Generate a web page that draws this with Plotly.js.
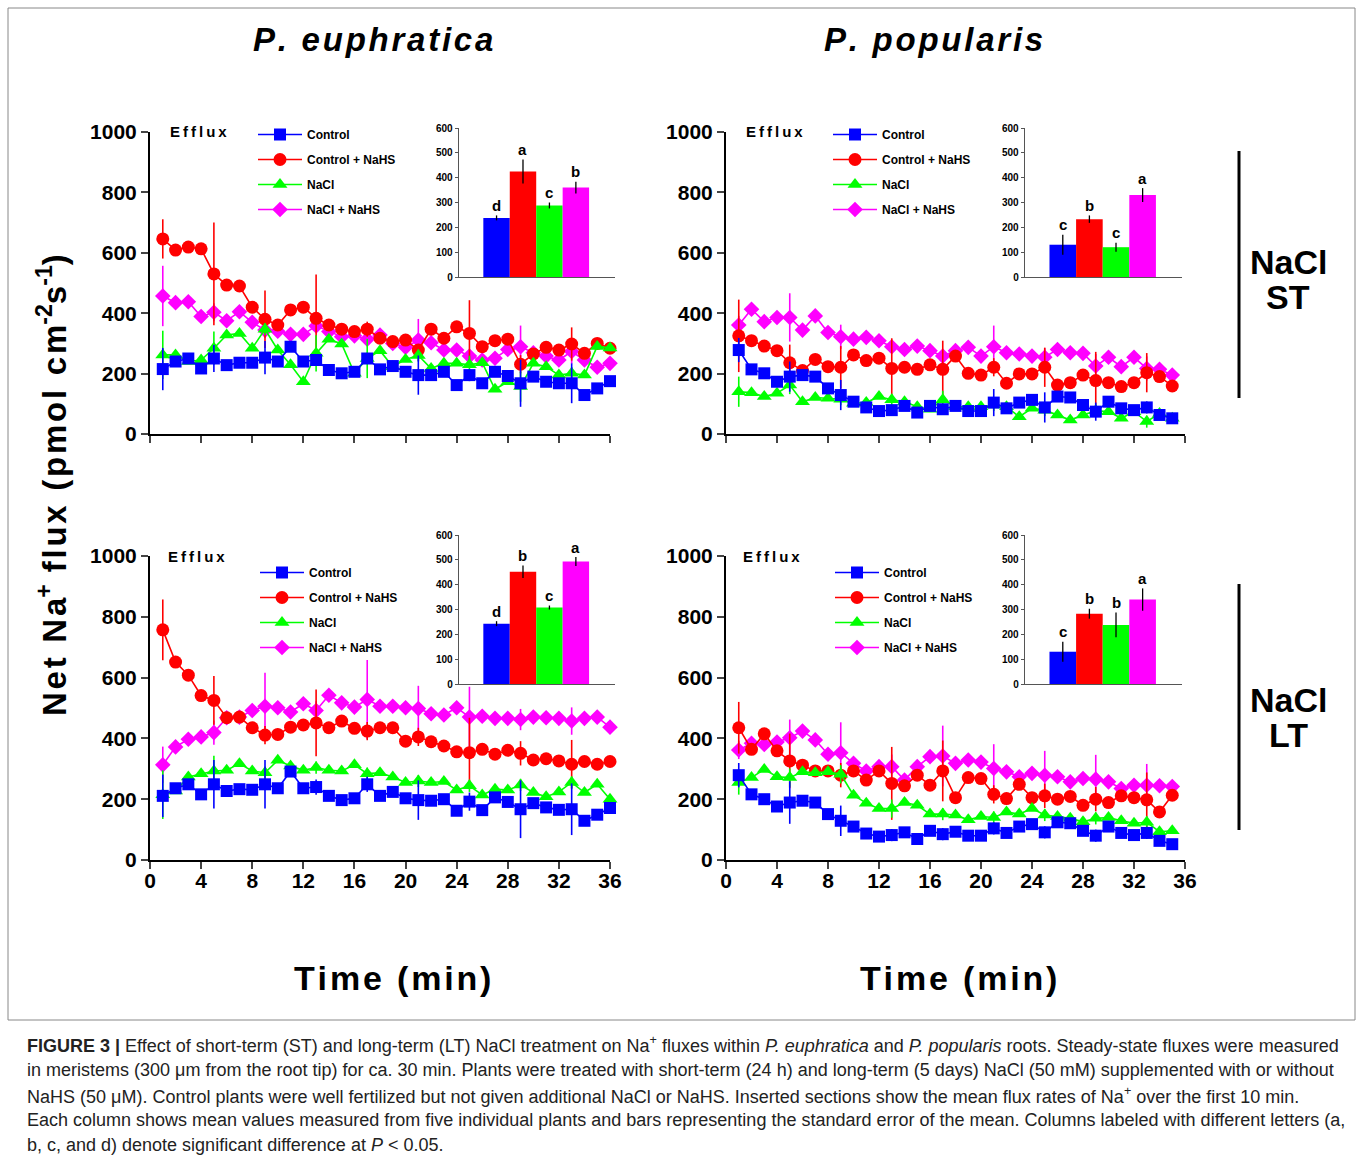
<!DOCTYPE html>
<html><head><meta charset="utf-8">
<script src="https://cdn.plot.ly/plotly-3.0.1.min.js"></script>
<style>html,body{margin:0;padding:0;background:#fff}</style>
</head><body><div id="chart" style="width:1357px;height:1163px"></div>
<script>
// ---------------- DATA ----------------
const time36 = [1,2,3,4,5,6,7,8,9,10,11,12,13,14,15,16,17,18,19,20,21,22,23,24,25,26,27,28,29,30,31,32,33,34,35,36];
const time35 = [1,2,3,4,5,6,7,8,9,10,11,12,13,14,15,16,17,18,19,20,21,22,23,24,25,26,27,28,29,30,31,32,33,34,35];
const seriesNames = ['Control', 'Control + NaHS', 'NaCl', 'NaCl + NaHS'];

// P. euphratica, NaCl ST
const euST_control  = [215,240,250,217,250,228,236,236,253,240,289,240,245,212,201,206,250,214,225,206,195,195,206,162,195,168,206,192,168,190,173,168,168,129,151,175];
const euST_ctrlNaHS = [646,609,619,613,530,493,490,420,380,361,411,420,383,361,347,339,347,317,306,311,278,347,317,355,333,289,309,314,231,265,287,278,298,267,300,284];
const euST_nacl     = [262,262,240,245,284,328,333,284,347,278,229,173,267,314,298,201,250,276,223,247,260,217,234,234,229,236,148,173,157,234,223,195,201,195,290,285];
const euST_naclNaHS = [457,435,438,389,403,375,405,370,344,340,330,330,358,339,322,325,314,328,300,287,311,302,278,278,258,245,251,280,289,269,258,245,273,245,221,234];

// P. popularis, NaCl ST
const popST_control  = [278,214,201,173,190,195,190,151,129,107,88,76,79,93,71,93,82,93,76,76,104,85,104,113,88,124,121,96,74,107,85,79,88,63,52];
const popST_ctrlNaHS = [325,309,291,276,236,210,247,223,221,262,243,251,217,221,214,229,214,258,201,195,221,168,199,199,221,162,170,195,177,170,157,170,203,190,159];
const popST_nacl     = [140,137,124,135,162,107,121,118,115,102,104,124,113,107,90,82,113,90,90,90,96,90,57,85,79,63,46,63,77,74,52,74,41,68,52];
const popST_naclNaHS = [361,413,372,386,386,344,391,336,322,314,320,309,289,280,291,276,258,276,287,258,289,269,265,258,254,280,269,267,225,254,223,254,217,214,195];

// P. euphratica, NaCl LT
const euLT_control  = [211,236,249,216,249,227,233,231,249,236,291,236,240,211,197,203,249,211,224,203,197,195,200,162,192,164,206,191,167,187,173,165,167,129,149,171];
const euLT_ctrlNaHS = [757,651,608,541,525,468,470,435,411,413,437,444,451,435,457,433,424,435,435,391,405,389,375,356,353,364,348,361,351,329,333,326,315,324,315,324];
const euLT_nacl     = [215,227,273,284,293,295,317,293,287,328,309,295,304,295,293,313,284,287,273,255,260,255,258,230,244,214,233,230,247,222,208,224,255,222,249,200];
const euLT_naclNaHS = [313,372,397,405,419,468,470,492,506,501,487,514,492,542,517,503,528,506,506,501,498,481,477,501,470,473,466,466,462,470,468,466,457,466,470,437];

// P. popularis, NaCl LT
const popLT_control  = [279,216,200,176,189,195,189,151,129,110,87,77,82,91,69,96,85,93,80,80,104,89,110,118,91,124,121,96,80,110,89,82,89,63,52];
const popLT_ctrlNaHS = [435,364,415,359,326,312,293,293,279,293,263,293,252,244,279,246,293,205,271,268,216,202,249,205,211,200,209,180,200,189,211,205,198,158,213];
const popLT_nacl     = [255,271,298,274,271,290,287,290,282,213,187,169,169,189,180,151,151,148,132,143,140,158,151,169,148,143,137,126,137,140,129,121,124,93,96];
const popLT_naclNaHS = [362,384,380,388,402,424,395,348,353,318,293,307,307,263,307,340,342,318,329,322,301,290,274,285,279,274,257,268,266,257,235,246,246,244,242];

// standard errors, shown at these minutes
const errMinutes = [1,5,9,13,17,21,25,29,33];
const euST_err  = [[70,45,55,15,15,65,20,78,66],[65,170,95,145,25,20,110,30,55],[80,55,20,60,65,20,30,50,20],[100,30,25,20,20,70,20,70,40]];
const popST_err = [[40,50,50,15,15,45,50,30,20],[120,60,70,100,95,30,65,95,65],[50,30,20,20,30,20,20,20,20],[30,80,40,20,20,70,30,40,40]];
const euLT_err  = [[70,80,80,25,25,65,30,95,85],[100,80,30,110,30,30,115,40,80],[80,50,20,20,20,20,20,20,20],[60,40,110,30,130,75,100,35,45]];
const popLT_err = [[40,70,50,20,20,20,20,20,20],[85,90,40,120,100,30,40,40,90],[40,30,30,30,20,20,20,20,20],[30,60,100,40,100,80,80,80,70]];

// Inset: mean flux over the first 10 min
const barIdx = [0,1,2,3];
const barEuST  = [238,425,288,360];  const barEuST_err  = [10,48,12,24];  const barEuST_lab  = ['d','a','c','b'];
const barPopST = [130,233,120,330];  const barPopST_err = [40,15,18,28];  const barPopST_lab = ['c','b','c','a'];
const barEuLT  = [243,452,308,493];  const barEuLT_err  = [10,25,8,18];   const barEuLT_lab  = ['d','b','c','a'];
const barPopLT = [130,283,238,340];  const barPopLT_err = [40,20,50,45];  const barPopLT_lab = ['c','b','b','a'];

const yTicks = [0,200,400,600,800,1000];
const xTicks = [0,4,8,12,16,20,24,28,32,36];
const insetTicks = [0,100,200,300,400,500,600];

// ---------------- STYLE ----------------
const W = 1357, H = 1163;
const px = x => x / W;
const py = y => 1 - y / H;
const colors = ['#0000FF', '#FF0000', '#00FF00', '#FF00FF'];
const symbols = ['square', 'circle', 'triangle-up', 'diamond'];
const sizes = [12, 13, 13, 12];
const FONT = 'Liberation Sans, Arial, sans-serif';
const HS = '\u200A';
const spaced = s => s.split('').join(HS);

function errArray(n, vals) {
  const a = new Array(n).fill(0);
  errMinutes.forEach((m, i) => { if (m <= n) a[m - 1] = vals[i]; });
  return a;
}

const traces = [];
function addPanel(t, series, errs, k) {
  const xa = k === 1 ? 'x' : 'x' + k;
  const ya = k === 1 ? 'y' : 'y' + k;
  const lg = k === 1 ? 'legend' : 'legend' + k;
  const drawOrder = [3, 1, 2, 0];
  drawOrder.forEach(s => {
    traces.push({
      type: 'scatter', mode: 'lines+markers', x: t, y: series[s],
      xaxis: xa, yaxis: ya, name: seriesNames[s], legend: lg,
      legendrank: s + 1, legendgroup: 'p' + k + 's' + s,
      line: {color: colors[s], width: 1.6},
      marker: {color: colors[s], symbol: symbols[s], size: sizes[s]},
      error_y: {type: 'data', array: errArray(t.length, errs[s]), visible: true,
                color: colors[s], thickness: 1.6, width: 0},
      cliponaxis: false, hoverinfo: 'x+y'
    });
  });
}
addPanel(time36, [euST_control, euST_ctrlNaHS, euST_nacl, euST_naclNaHS], euST_err, 1);
addPanel(time35, [popST_control, popST_ctrlNaHS, popST_nacl, popST_naclNaHS], popST_err, 2);
addPanel(time36, [euLT_control, euLT_ctrlNaHS, euLT_nacl, euLT_naclNaHS], euLT_err, 3);
addPanel(time35, [popLT_control, popLT_ctrlNaHS, popLT_nacl, popLT_naclNaHS], popLT_err, 4);

const insets = [
  {vals: barEuST, err: barEuST_err, lab: barEuST_lab, k: 5},
  {vals: barPopST, err: barPopST_err, lab: barPopST_lab, k: 6},
  {vals: barEuLT, err: barEuLT_err, lab: barEuLT_lab, k: 7},
  {vals: barPopLT, err: barPopLT_err, lab: barPopLT_lab, k: 8}
];
const annotations = [];
insets.forEach(ins => {
  traces.push({
    type: 'bar', x: barIdx, y: ins.vals, width: [1,1,1,1],
    xaxis: 'x' + ins.k, yaxis: 'y' + ins.k, showlegend: false,
    marker: {color: colors, line: {width: 0}},
    error_y: {type: 'data', array: ins.err, visible: true, color: '#000', thickness: 1.3, width: 0},
    hoverinfo: 'y'
  });
  barIdx.forEach(i => {
    annotations.push({
      xref: 'x' + ins.k, yref: 'y' + ins.k, x: barIdx[i], y: ins.vals[i] + ins.err[i] + 40,
      text: ins.lab[i], showarrow: false, xanchor: 'center', yanchor: 'middle',
      font: {family: FONT, size: 15, weight: 'bold', color: '#000'}
    });
  });
});

// panel geometry (pixels)
const colX = [[150, 610], [726, 1185]];
const rowY = [[132, 434], [556, 860]];
const insetX = [[459, 615], [1025, 1182]];
const insetY = [[128, 277], [535, 684]];

const layout = {
  width: W, height: H, margin: {l: 0, r: 0, t: 0, b: 0},
  paper_bgcolor: '#fff', plot_bgcolor: 'rgba(0,0,0,0)',
  showlegend: true, hovermode: false,
  annotations: annotations, shapes: []
};

function mainAxes(k, col, row) {
  const sx = k === 1 ? '' : k;
  layout['xaxis' + sx] = {
    domain: [px(colX[col][0]), px(colX[col][1])], range: [0, 36],
    anchor: 'y' + sx, tickvals: xTicks, ticks: 'outside', ticklen: 7, tickwidth: 2,
    showline: true, linewidth: 2, linecolor: '#000', showgrid: false, zeroline: false,
    showticklabels: row === 1, ticklabelstandoff: -6,
    tickfont: {family: FONT, size: 21, weight: 'bold', color: '#000'}
  };
  layout['yaxis' + sx] = {
    domain: [py(rowY[row][1]), py(rowY[row][0])], range: [0, 1000],
    anchor: 'x' + sx, tickvals: yTicks, ticks: 'outside', ticklen: 7, tickwidth: 2,
    showline: true, linewidth: 2, linecolor: '#000', showgrid: false, zeroline: false,
    tickfont: {family: FONT, size: 21, weight: 'bold', color: '#000'}
  };
}
mainAxes(1, 0, 0); mainAxes(2, 1, 0); mainAxes(3, 0, 1); mainAxes(4, 1, 1);

function insetAxes(k, col, row) {
  layout['xaxis' + k] = {
    domain: [px(insetX[col][0]), px(insetX[col][1])], range: [-1.42, 4.48],
    anchor: 'y' + k, showline: true, linewidth: 1.3, linecolor: '#555',
    showgrid: false, zeroline: false, showticklabels: false, ticks: ''
  };
  layout['yaxis' + k] = {
    domain: [py(insetY[row][1]), py(insetY[row][0])], range: [0, 600],
    anchor: 'x' + k, tickvals: insetTicks, ticks: 'outside', ticklen: 3, tickwidth: 1,
    showline: true, linewidth: 1.3, linecolor: '#555', tickcolor: '#555',
    showgrid: false, zeroline: false,
    tickfont: {family: FONT, size: 10, weight: 'bold', color: '#000'}
  };
}
insetAxes(5, 0, 0); insetAxes(6, 1, 0); insetAxes(7, 0, 1); insetAxes(8, 1, 1);

// legends
const legendPos = [[253, 120], [828, 120], [255, 558], [830, 558]];
legendPos.forEach((p, i) => {
  layout[i === 0 ? 'legend' : 'legend' + (i + 1)] = {
    x: px(p[0]), y: py(p[1]), xanchor: 'left', yanchor: 'top',
    bgcolor: 'rgba(0,0,0,0)', borderwidth: 0, traceorder: 'grouped',
    tracegroupgap: 6, itemwidth: 44,
    font: {family: FONT, size: 12, weight: 'bold', color: '#000'}
  };
});

// text annotations
const txt = (x, y, text, size, extra) => Object.assign({
  xref: 'paper', yref: 'paper', x: px(x), y: py(y), text: text, showarrow: false,
  xanchor: 'center', yanchor: 'middle',
  font: {family: FONT, size: size, weight: 'bold', color: '#000'}
}, extra || {});

annotations.push(txt(373, 40, '<i>' + spaced('P. euphratica') + '</i>', 33));
annotations.push(txt(933, 40, '<i>' + spaced('P. popularis') + '</i>', 33));
annotations.push(txt(392, 978, spaced('Time (min)'), 34));
annotations.push(txt(958, 978, spaced('Time (min)'), 34));
const efflux = 'Efflux'.split('').join('\u2009');
annotations.push(txt(168, 131, efflux, 15, {xanchor: 'left'}));
annotations.push(txt(744, 131, efflux, 15, {xanchor: 'left'}));
annotations.push(txt(166, 557, efflux, 15, {xanchor: 'left'}));
annotations.push(txt(741, 557, efflux, 15, {xanchor: 'left'}));
annotations.push(txt(52, 485, spaced('Net Na') + '<sup>+</sup>' + HS + ' ' + spaced('flux (pmol cm') + '<sup>-2</sup>' + spaced('s') + '<sup>-1</sup>' + ')', 33, {textangle: -90}));
annotations.push(txt(1288, 262, 'NaCl', 34));
annotations.push(txt(1288, 297, 'ST', 34));
annotations.push(txt(1288, 700, 'NaCl', 34));
annotations.push(txt(1288, 735, 'LT', 34));

// caption
const capFont = {family: FONT, size: 18, color: '#222'};
const captionLines = [
  '<b>FIGURE 3 |</b> Effect of short-term (ST) and long-term (LT) NaCl treatment on Na<sup>+</sup> fluxes within <i>P. euphratica</i> and <i>P. popularis</i> roots. Steady-state fluxes were measured',
  'in meristems (300 μm from the root tip) for ca. 30 min. Plants were treated with short-term (24 h) and long-term (5 days) NaCl (50 mM) supplemented with or without',
  'NaHS (50 μM). Control plants were well fertilized but not given additional NaCl or NaHS. Inserted sections show the mean flux rates of Na<sup>+</sup> over the first 10 min.',
  'Each column shows mean values measured from five individual plants and bars representing the standard error of the mean. Columns labeled with different letters (a,',
  'b, c, and d) denote significant difference at <i>P</i> < 0.05.'
];
const captionY = [1044, 1070, 1095, 1120, 1145];
captionLines.forEach((l, i) => {
  annotations.push({xref: 'paper', yref: 'paper', x: px(25), y: py(captionY[i]), xanchor: 'left', yanchor: 'middle',
    text: l, showarrow: false, font: capFont});
});

// decorations
const line = (x0, y0, x1, y1, w, c) => ({type: 'line', xref: 'paper', yref: 'paper',
  x0: px(x0), y0: py(y0), x1: px(x1), y1: py(y1), line: {color: c, width: w}});
layout.shapes.push(line(1239, 151, 1239, 398, 3, '#000'));
layout.shapes.push(line(1239, 584, 1239, 830, 3, '#000'));
layout.shapes.push({type: 'rect', xref: 'paper', yref: 'paper', x0: px(8), x1: px(1355), y0: py(1020), y1: py(8),
  line: {color: '#888', width: 1}});

Plotly.newPlot('chart', traces, layout, {staticPlot: true, displayModeBar: false});
</script></body></html>
